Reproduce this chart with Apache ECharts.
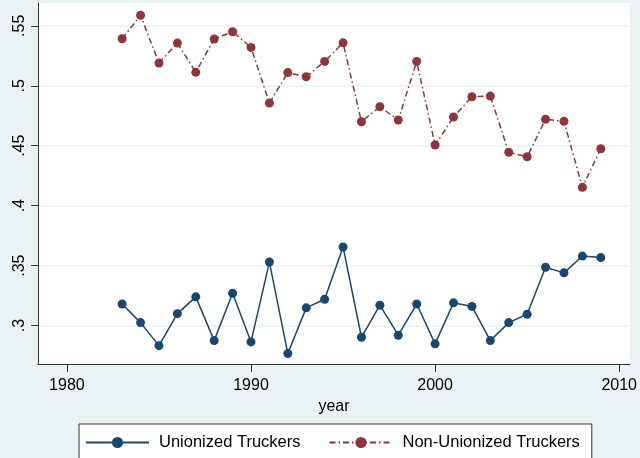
<!DOCTYPE html>
<html>
<head>
<meta charset="utf-8">
<script src="https://cdn.jsdelivr.net/npm/echarts@6/dist/echarts.min.js"></script>
<style>
  html, body { margin: 0; padding: 0; background: #eaf2f3; }
  #chart { width: 640px; height: 458px; }
</style>
</head>
<body>
<div id="chart"></div>
<script>
// years on the x axis
const years = [1983, 1984, 1985, 1986, 1987, 1988, 1989, 1990, 1991, 1992, 1993, 1994, 1995,
  1996, 1997, 1998, 1999, 2000, 2001, 2002, 2003, 2004, 2005, 2006, 2007, 2008, 2009]
const unionized = [0.318, 0.3025, 0.2833, 0.310, 0.324, 0.2875, 0.327, 0.2864, 0.353, 0.2767,
  0.3148, 0.322, 0.3656, 0.2903, 0.317, 0.292, 0.318, 0.2848, 0.319, 0.316, 0.2875, 0.3025,
  0.3095, 0.3487, 0.344, 0.358, 0.3567]
const nonUnionized = [0.5392, 0.5587, 0.5189, 0.5356, 0.5112, 0.539, 0.545, 0.532, 0.4856, 0.511,
  0.5075, 0.5203, 0.5358, 0.47, 0.4825, 0.4714, 0.5203, 0.4506, 0.4739, 0.4908, 0.4914, 0.4445,
  0.4408, 0.472, 0.4703, 0.4153, 0.4475]
const xTicks = [1980, 1990, 2000, 2010]
const yTicks = [0.3, 0.35, 0.4, 0.45, 0.5, 0.55]

const blue = '#1a476f'
const red = '#90353b'

function pairs(vals) {
  let out = []
  for (let i = 0; i < years.length; i++) {
    out.push([years[i], vals[i]])
  }
  return out
}

const mydom = echarts.init(document.getElementById('chart'))
const option = {
  backgroundColor: '#eaf2f3',
  textStyle: { fontFamily: 'Liberation Sans, Arial, sans-serif' },
  grid: {
    left: 38,
    top: 3,
    right: 8,
    bottom: 94,
    show: true,
    backgroundColor: '#ffffff',
    borderWidth: 0
  },
  legend: {
    left: 79,
    top: 424,
    padding: [10, 12, 20, 6],
    backgroundColor: '#ffffff',
    borderColor: '#333',
    borderWidth: 1,
    borderRadius: 0,
    itemWidth: 63,
    itemHeight: 14,
    itemGap: 28,
    textStyle: {
      fontSize: 16.5,
      color: '#000',
      padding: [0, 0, 0, 5]
    },
    data: ['Unionized Truckers', 'Non-Unionized Truckers']
  },
  xAxis: {
    type: 'value',
    min: 1978.43,
    max: 2010.58,
    name: 'year',
    nameLocation: 'middle',
    nameGap: 33,
    nameTextStyle: { fontSize: 16, color: '#000' },
    splitLine: { show: false },
    axisLine: { show: true, onZero: false, lineStyle: { color: '#333', width: 1 } },
    axisTick: {
      show: true,
      length: 8,
      customValues: xTicks,
      lineStyle: { color: '#333' }
    },
    axisLabel: {
      fontSize: 16,
      color: '#000',
      margin: 14,
      customValues: xTicks,
      formatter: function (v) {
        return String(v)
      }
    }
  },
  yAxis: {
    type: 'value',
    min: 0.268,
    max: 0.569,
    axisLine: { show: true, onZero: false, lineStyle: { color: '#333', width: 1 } },
    axisTick: {
      show: true,
      length: 7,
      customValues: yTicks,
      lineStyle: { color: '#333' }
    },
    axisLabel: {
      fontSize: 16,
      color: '#000',
      rotate: 90,
      margin: 10,
      customValues: yTicks,
      formatter: function (v) {
        return String(Math.round(v * 100) / 100).replace(/^0/, '')
      }
    },
    splitLine: {
      show: true,
      lineStyle: { color: '#eaf2f3', width: 1.5 }
    }
  },
  series: [
    {
      name: 'Unionized Truckers',
      type: 'line',
      data: pairs(unionized),
      symbol: 'circle',
      symbolSize: 9,
      showAllSymbol: true,
      itemStyle: { color: blue },
      lineStyle: { color: blue, width: 1.5 },
      z: 3
    },
    {
      name: 'Non-Unionized Truckers',
      type: 'line',
      data: pairs(nonUnionized),
      symbol: 'circle',
      symbolSize: 9,
      showAllSymbol: true,
      itemStyle: { color: red },
      lineStyle: { color: red, width: 1.5, type: [6, 3, 1.5, 3] },
      z: 3
    }
  ]
}
mydom.setOption(option)
</script>
</body>
</html>
